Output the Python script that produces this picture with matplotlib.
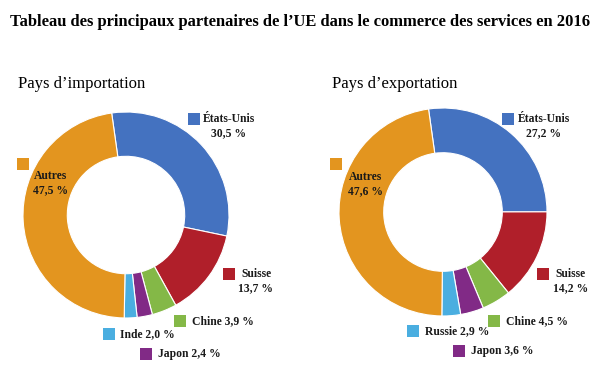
import matplotlib.pyplot as plt
from matplotlib.patches import Rectangle

W, H = 599, 384

title = "Tableau des principaux partenaires de l\u2019UE dans le commerce des services en 2016"

# données
import_names = ["États-Unis", "Suisse", "Chine", "Japon", "Inde", "Autres"]
import_values = [30.5, 13.7, 3.9, 2.4, 2.0, 47.5]
export_names = ["États-Unis", "Suisse", "Chine", "Japon", "Russie", "Autres"]
export_values = [27.2, 14.2, 4.5, 3.6, 2.9, 47.6]

colors = ["#4472c0", "#b01f2a", "#84b847", "#812a86", "#4aaee0", "#e3951f"]

serif = "Liberation Serif"


def px(x, y):
    return x / W, 1 - y / H


def fmt(v):
    return f"{v:.1f}".replace(".", ",") + " %"


def draw_donut(fig, cx, cy, r, values, start):
    ax = fig.add_axes([(cx - r) / W, (H - cy - r) / H, 2 * r / W, 2 * r / H])
    ax.pie(values, colors=colors, startangle=start, counterclock=False,
           radius=1, wedgeprops=dict(width=0.43, edgecolor="white", linewidth=0.8))
    ax.set_xlim(-1, 1)
    ax.set_ylim(-1, 1)
    ax.axis("off")


def square(fig, x, y, color, size=12):
    x0, y0 = px(x, y + size)
    fig.patches.append(Rectangle((x0, y0), size / W, size / H, transform=fig.transFigure,
                                 facecolor=color, edgecolor="none"))


def label(fig, x, y, text, ha="left"):
    fx, fy = px(x, y)
    fig.text(fx, fy, text, ha=ha, va="center", multialignment="center",
             fontsize=8.4, fontweight="bold", family=serif, linespacing=1.2, color="#1a1a1a")


def draw_labels(fig, names, values, pos):
    # pos: (square x, square y, text x, text y, mode)
    for i, (sx, sy, tx, ty, mode) in enumerate(pos):
        square(fig, sx, sy, colors[i])
        if mode == "two":
            label(fig, tx, ty, names[i] + "\n" + fmt(values[i]), ha="center")
        else:
            label(fig, tx, ty, names[i] + " " + fmt(values[i]))


fig = plt.figure(figsize=(W / 100, H / 100), dpi=100)
fig.patch.set_facecolor("white")

fig.text(*px(300, 22), title, ha="center", va="center", fontsize=11.9,
         fontweight="bold", family=serif)
fig.text(*px(18, 84), "Pays d\u2019importation", ha="left", va="center",
         fontsize=12, family=serif)
fig.text(*px(332, 84), "Pays d\u2019exportation", ha="left", va="center",
         fontsize=12, family=serif)

draw_donut(fig, 126, 215, 103, import_values, 98)
draw_donut(fig, 443, 212, 104, export_values, 98)

draw_labels(fig, import_names, import_values, [
    (188, 113, 229, 126, "two"),
    (223, 268, 256, 281, "two"),
    (174, 315, 192, 321, "one"),
    (140, 348, 158, 354, "one"),
    (103, 328, 120, 334, "one"),
    (17, 158, 51, 183, "two"),
])

draw_labels(fig, export_names, export_values, [
    (502, 113, 544, 126, "two"),
    (537, 268, 571, 281, "two"),
    (488, 315, 506, 321, "one"),
    (453, 345, 471, 351, "one"),
    (407, 325, 425, 331, "one"),
    (330, 158, 366, 184, "two"),
])

fig.savefig("out.png", dpi=100)
